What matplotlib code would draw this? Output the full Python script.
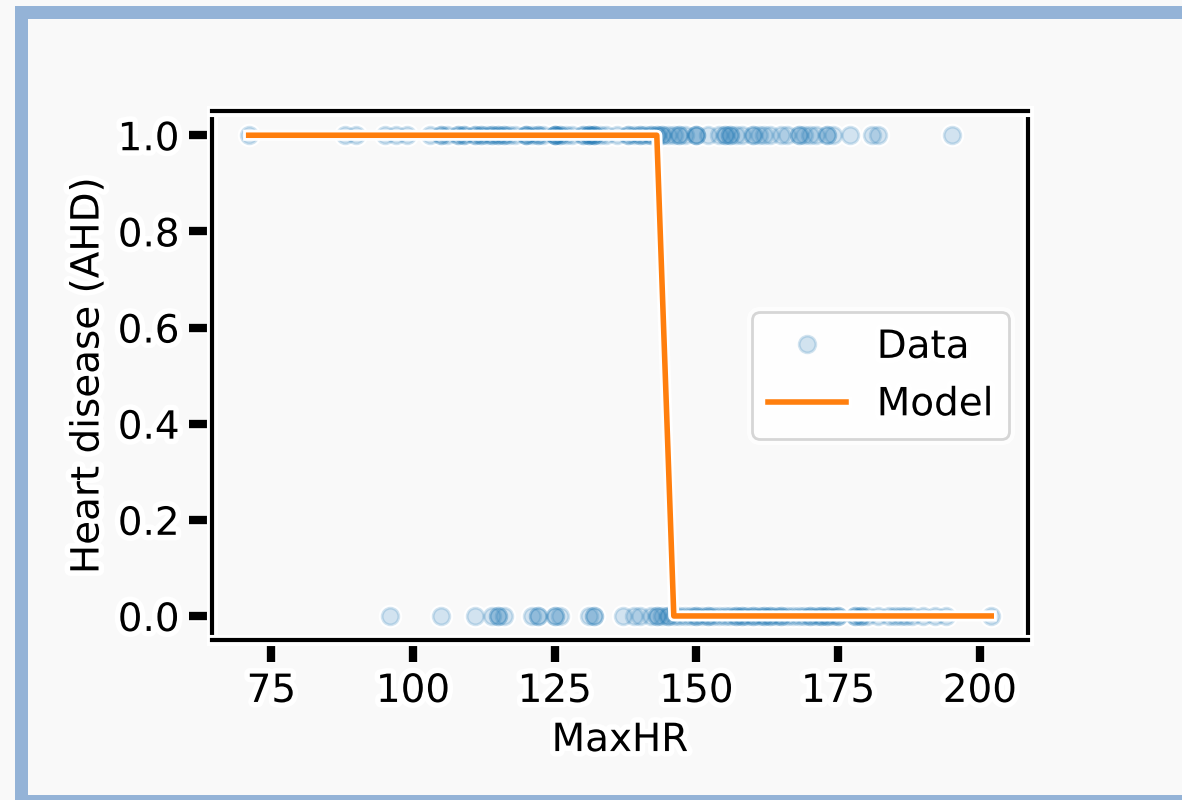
"""
Heart disease (AHD) vs MaxHR - data points and step-like model fit,
drawn in xkcd style inside a slide-like blue frame.
"""

import matplotlib
matplotlib.use("Agg")
import matplotlib.pyplot as plt
from matplotlib.patches import Rectangle

# =============================================================================
# DATA
# =============================================================================

# MaxHR for patients with heart disease (AHD = 1)
maxhr_yes = [
    71, 88, 90, 95, 97, 99, 103, 105, 105, 106, 108, 108, 109, 109, 111,
    111, 112, 112, 113, 114, 114, 115, 115, 116, 116, 117, 118, 120, 120,
    120, 121, 122, 122, 123, 125, 125, 125, 125, 126, 126, 127, 128, 130,
    130, 131, 131, 131, 132, 132, 132, 133, 134, 136, 138, 138, 139, 140,
    140, 141, 142, 142, 143, 143, 144, 144, 145, 146, 147, 147, 148, 150,
    150, 150, 152, 154, 155, 155, 156, 156, 157, 158, 160, 160, 161, 162,
    163, 165, 166, 168, 168, 169, 170, 171, 173, 173, 174, 177, 181, 182,
    195,
]

# MaxHR for patients without heart disease (AHD = 0)
maxhr_no = [
    96, 105, 111, 114, 115, 115, 116, 121, 122, 122, 125, 125, 126, 131,
    132, 132, 137, 139, 140, 142, 143, 143, 144, 145, 145, 146, 147, 148,
    149, 150, 150, 151, 152, 152, 153, 154, 155, 156, 157, 157, 158, 158,
    159, 160, 160, 161, 162, 162, 163, 163, 164, 165, 165, 166, 167, 168,
    169, 170, 170, 171, 172, 172, 173, 173, 174, 175, 175, 178, 178, 179,
    179, 180, 182, 184, 185, 186, 187, 188, 190, 192, 194, 202,
]

# Model prediction (sharp drop between 143 and 146)
model_x = [71, 143, 146, 202]
model_y = [1, 1, 0, 0]

# =============================================================================
# STYLE
# =============================================================================

plt.xkcd(scale=0, length=0, randomness=0)
plt.rcParams["font.family"] = ["DejaVu Sans"]
plt.rcParams["font.size"] = 14

bg = "#f9f9f9"
frame_color = "#94b3d7"

# =============================================================================
# PLOT
# =============================================================================

fig, ax = plt.subplots(figsize=(5.91, 4.0), dpi=200)
fig.patch.set_facecolor(bg)
ax.set_facecolor(bg)
fig.subplots_adjust(left=0.179, right=0.870, bottom=0.2, top=0.861)

x_all = maxhr_yes + maxhr_no
y_all = [1] * len(maxhr_yes) + [0] * len(maxhr_no)

# white halo under the whole row of points, then the points themselves
ax.plot(x_all, y_all, "o", color="white", markersize=8.5,
        markeredgewidth=0, path_effects=[], zorder=1.9)
ax.plot(x_all, y_all, "o", color="C0", alpha=0.2, label="Data",
        path_effects=[], zorder=2)
ax.plot(model_x, model_y, color="C1", linewidth=2, label="Model", zorder=2.1)

ax.set_xlabel("MaxHR")
ax.set_ylabel("Heart disease (AHD)")
ax.set_xticks([75, 100, 125, 150, 175, 200])
ax.set_yticks([0.0, 0.2, 0.4, 0.6, 0.8, 1.0])
ax.legend(loc="center right")

# blue slide frame (left, top and bottom bands; right side is off-picture)
W, H = 1182, 800
bands = [
    (15, 6, 13, H - 6),      # left
    (15, 6, W - 15, 13),     # top
    (15, H - 5, W - 15, 5),  # bottom
]
for bx, by, bw, bh in bands:
    fig.add_artist(Rectangle(
        (bx / W, 1 - (by + bh) / H), bw / W, bh / H,
        transform=fig.transFigure, facecolor=frame_color,
        edgecolor="none", linewidth=0, path_effects=[],
    ))

plt.savefig("out.png", dpi=200, facecolor=bg)
